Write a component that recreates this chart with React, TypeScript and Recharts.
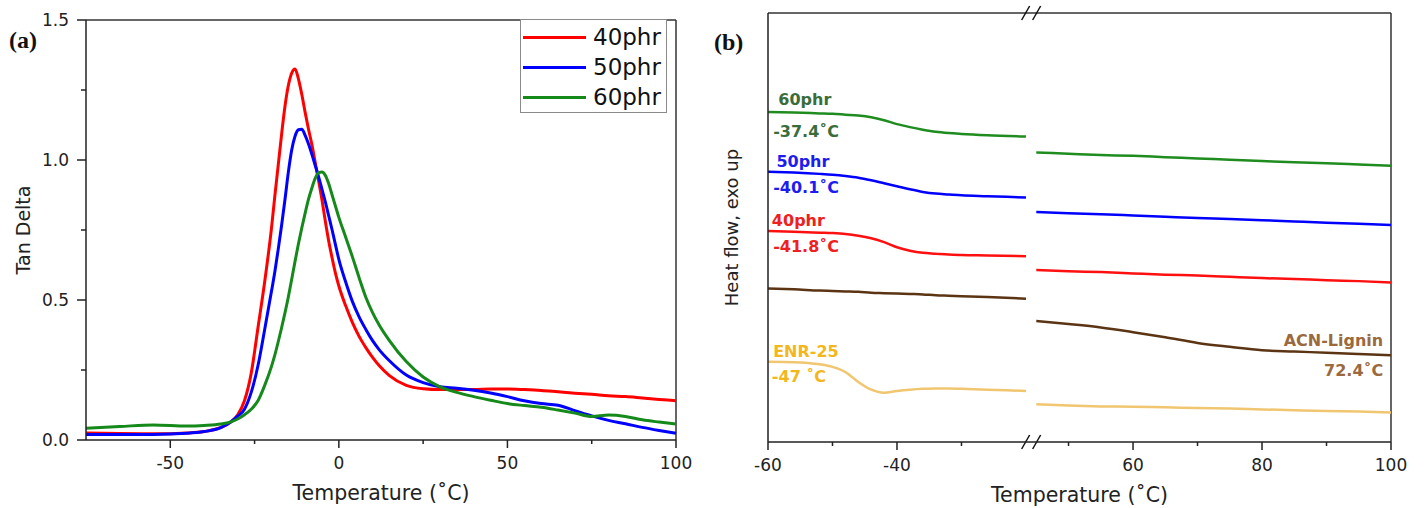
import React from "react";
import {
  LineChart,
  ComposedChart,
  Line,
  Scatter,
  XAxis,
  YAxis,
  ReferenceLine,
  Legend,
} from "recharts";

const FONT = "'DejaVu Sans', Verdana, sans-serif";
const AXIS = "#222";

// ---------- (a) DMA: tan delta vs temperature ----------
const tempA = [
  -75, -65, -55, -45, -40, -35, -32, -30, -28, -26, -24, -22,
  -20, -19, -18, -17, -16, -15, -14, -13, -12, -11,
  -10, -9, -8, -7, -6, -5, -4, -3, -2, -1,
  0, 2, 4, 6, 8, 10, 12,
  15, 20, 25, 30, 35, 40, 45, 50, 55, 60,
  65, 70, 75, 80, 85, 90, 95, 100,
];
const tan40 = [
  0.025, 0.023, 0.022, 0.025, 0.03, 0.045, 0.065, 0.09, 0.14, 0.238, 0.4, 0.565,
  0.755, 0.87, 0.98, 1.09, 1.19, 1.265, 1.31, 1.325, 1.29, 1.235,
  1.17, 1.11, 1.055, 0.99, 0.925, 0.857, 0.78, 0.71, 0.65, 0.595,
  0.55, 0.48, 0.42, 0.37, 0.33, 0.295, 0.265,
  0.23, 0.195, 0.183, 0.18, 0.18, 0.18, 0.182, 0.182, 0.18, 0.177,
  0.172, 0.167, 0.163, 0.158, 0.155, 0.15, 0.145, 0.14,
];
const tan50 = [
  0.02, 0.02, 0.02, 0.024, 0.03, 0.044, 0.065, 0.085, 0.11, 0.17, 0.265, 0.395,
  0.53, 0.6, 0.68, 0.765, 0.857, 0.955, 1.035, 1.085, 1.108, 1.11,
  1.088, 1.057, 1.02, 0.98, 0.94, 0.895, 0.85, 0.8, 0.75, 0.697,
  0.645, 0.565, 0.495, 0.44, 0.395, 0.355, 0.322,
  0.283, 0.232, 0.205, 0.19, 0.185, 0.178, 0.168, 0.155, 0.14, 0.13,
  0.124, 0.105, 0.086, 0.07, 0.058, 0.045, 0.034, 0.024,
];
const tan60 = [
  0.042, 0.048, 0.054, 0.05, 0.052, 0.057, 0.065, 0.075, 0.09, 0.11, 0.14, 0.195,
  0.262, 0.303, 0.35, 0.4, 0.453, 0.51, 0.573, 0.638, 0.7, 0.757,
  0.81, 0.86, 0.9, 0.935, 0.955, 0.957, 0.945, 0.915, 0.875, 0.835,
  0.795, 0.725, 0.655, 0.58, 0.51, 0.455, 0.41,
  0.355, 0.28, 0.225, 0.19, 0.17, 0.155, 0.142, 0.13, 0.123, 0.117,
  0.107, 0.096, 0.084, 0.089, 0.084, 0.072, 0.064, 0.057,
];

const dmaRows = tempA.map((t, i) => ({
  t,
  p40: tan40[i],
  p50: tan50[i],
  p60: tan60[i],
}));

const xTicksA = [-50, -25, 0, 25, 50, 75, 100];
const yTicksA = [0, 0.25, 0.5, 0.75, 1, 1.25, 1.5];

// ---------- (b) DSC: heat flow, broken axis -60..-20 | 45..100 ----------
const leftTemps = [-60, -56, -52, -50, -48, -46, -44, -42, -40, -38, -36, -34, -32, -30, -26, -20];
const rightTemps = [45, 50, 55, 60, 65, 70, 75, 80, 85, 90, 95, 100];

const dsc60Left = [76.9, 76.8, 76.6, 76.5, 76.3, 76.1, 75.7, 75.0, 74.1, 73.4, 72.8, 72.3, 72.0, 71.8, 71.5, 71.2];
const dsc60Right = [67.5, 67.2, 66.9, 66.7, 66.4, 66.1, 65.8, 65.5, 65.2, 65.0, 64.7, 64.4];
const dsc50Left = [63.0, 62.8, 62.5, 62.3, 62.0, 61.6, 61.0, 60.3, 59.6, 58.9, 58.3, 57.9, 57.7, 57.5, 57.3, 57.0];
const dsc50Right = [53.6, 53.3, 53.1, 52.8, 52.5, 52.2, 52.0, 51.7, 51.4, 51.1, 50.9, 50.6];
const dsc40Left = [49.2, 49.0, 48.8, 48.7, 48.5, 48.1, 47.5, 46.6, 45.4, 44.6, 44.1, 43.9, 43.7, 43.6, 43.5, 43.3];
const dsc40Right = [40.1, 39.8, 39.6, 39.3, 39.0, 38.8, 38.5, 38.2, 38.0, 37.7, 37.5, 37.2];
const ligninLeft = [35.8, 35.6, 35.3, 35.2, 35.1, 35.0, 34.8, 34.7, 34.6, 34.5, 34.4, 34.2, 34.1, 34.0, 33.8, 33.4];
const ligninRight = [28.2, 27.5, 26.7, 25.6, 24.4, 23.1, 22.2, 21.4, 21.1, 20.8, 20.5, 20.2];
const enrLeft = [18.7, 18.6, 18.1, 17.5, 16.3, 14.0, 12.2, 11.5, 11.9, 12.2, 12.4, 12.5, 12.5, 12.4, 12.2, 11.9];
const enrRight = [8.8, 8.5, 8.3, 8.2, 8.1, 7.9, 7.8, 7.6, 7.4, 7.2, 7.1, 6.9];

const noteText = ["60phr", "-37.4˚C", "50phr", "-40.1˚C", "40phr", "-41.8˚C", "ENR-25", "-47 ˚C", "ACN-Lignin", "72.4˚C"];
const noteTemp = [-58.4, -59.2, -58.7, -59.2, -59.4, -59.2, -59.2, -59.4, 98.8, 98.8];
const noteLevel = [79.8, 72.4, 65.4, 59.4, 51.6, 45.5, 21.2, 15.2, 23.6, 16.7];
const noteColor = ["#3b6d3b", "#3b6d3b", "#1d1df0", "#1d1df0", "#ee2020", "#ee2020", "#f3b71c", "#f3b71c", "#9a6a3e", "#9a6a3e"];

// break: the right segment is shifted next to the left one with a small gap
const GAP = 1.6;
const toAxis = (t: number) => (t <= -20 ? t : t - 65 + GAP);
const fromAxis = (v: number) => (v <= -20 ? v : v + 65 - GAP);
const BREAK_V = -20 + GAP / 2;

const dscSeries = [
  { key: "g60", name: "60phr", color: "#1f8c1f", left: dsc60Left, right: dsc60Right },
  { key: "g50", name: "50phr", color: "#0000ff", left: dsc50Left, right: dsc50Right },
  { key: "g40", name: "40phr", color: "#ff1010", left: dsc40Left, right: dsc40Right },
  { key: "lig", name: "ACN-Lignin", color: "#5b3413", left: ligninLeft, right: ligninRight },
  { key: "enr", name: "ENR-25", color: "#f1c671", left: enrLeft, right: enrRight },
];

const rowAt = (v: number, side: "left" | "right" | null, i: number) => {
  const row: Record<string, number | null> = { v };
  dscSeries.forEach((s) => {
    row[s.key] = side ? s[side][i] : null;
  });
  return row;
};

const dscRows = [
  ...leftTemps.map((t, i) => rowAt(t, "left", i)),
  rowAt(BREAK_V, null, 0),
  ...rightTemps.map((t, i) => rowAt(toAxis(t), "right", i)),
];

const notes = noteText.map((text, i) => ({
  v: toAxis(noteTemp[i]),
  u: noteLevel[i],
  text,
  color: noteColor[i],
  anchor: noteTemp[i] > 0 ? "end" : "start",
}));

const xTicksB = [-60, -50, -40, -30, ...[50, 60, 70, 80, 90, 100].map(toAxis)];

// ---------- shared pieces ----------
function BottomTick({ x, y, payload, label }: any) {
  const text = label(payload.value);
  const len = text ? 8 : 4;
  return (
    <g>
      <line x1={x} y1={y} x2={x} y2={y + len} stroke={AXIS} strokeWidth={1.5} />
      {text ? (
        <text x={x} y={y + 29} textAnchor="middle" fontSize={17} fontFamily={FONT} fill="#222">
          {text}
        </text>
      ) : null}
    </g>
  );
}

function LeftTickA({ x, y, payload }: any) {
  const v = payload.value;
  const major = Math.abs(v * 2 - Math.round(v * 2)) < 1e-6;
  return (
    <g>
      <line x1={x} y1={y} x2={x - (major ? 9 : 5)} y2={y} stroke={AXIS} strokeWidth={1.5} />
      {major ? (
        <text x={x - 17} y={y + 6} textAnchor="end" fontSize={17} fontFamily={FONT} fill="#222">
          {v.toFixed(1)}
        </text>
      ) : null}
    </g>
  );
}

const xTitle = (fallback: { x: number; y: number; width: number }) => (p: any) => {
  const vb = p && p.viewBox ? p.viewBox : fallback;
  return (
    <text
      x={vb.x + vb.width / 2}
      y={vb.y + 60}
      textAnchor="middle"
      fontSize={20.5}
      fontFamily={FONT}
      fill="#222"
    >
      Temperature (˚C)
    </text>
  );
};

const yTitle = (text: string, dist: number, size: number, fallback: any) => (p: any) => {
  const vb = p && p.viewBox ? p.viewBox : fallback;
  const cx = vb.x + vb.width - dist;
  const cy = vb.y + vb.height / 2;
  return (
    <text
      x={cx}
      y={cy}
      transform={`rotate(-90, ${cx}, ${cy})`}
      textAnchor="middle"
      dominantBaseline="central"
      fontSize={size}
      fontFamily={FONT}
      fill="#222"
    >
      {text}
    </text>
  );
};

function DmaLegend({ payload }: any) {
  return (
    <div
      style={{
        width: 147,
        height: 94,
        boxSizing: "border-box",
        border: "1px solid #8a8a8a",
        background: "#fff",
        paddingTop: 2,
      }}
    >
      {(payload || []).map((entry: any) => (
        <div key={entry.value} style={{ display: "flex", alignItems: "center", height: 30 }}>
          <span style={{ display: "inline-block", marginLeft: 2, width: 63, height: 3, background: entry.color }} />
          <span style={{ marginLeft: 7, fontFamily: FONT, fontSize: 23, lineHeight: "30px", color: "#111" }}>
            {entry.value}
          </span>
        </div>
      ))}
    </div>
  );
}

function BreakMarks(props: any) {
  const cx = props.x1;
  const ys = [Math.min(props.y1, props.y2), Math.max(props.y1, props.y2)];
  return (
    <g>
      {ys.map((y) =>
        [-5.5, 5.5].map((dx) => (
          <line
            key={`${y}-${dx}`}
            x1={cx + dx - 4}
            y1={y + 7}
            x2={cx + dx + 4}
            y2={y - 7}
            stroke="#111"
            strokeWidth={1.5}
          />
        ))
      )}
    </g>
  );
}

function NoteLabel(p: any) {
  const d = p.payload;
  return (
    <text
      x={p.cx}
      y={p.cy}
      textAnchor={d.anchor}
      dominantBaseline="central"
      fontSize={16}
      fontWeight="bold"
      fontFamily={FONT}
      fill={d.color}
    >
      {d.text}
    </text>
  );
}

export default function App() {
  const labelA = (v: number) => (v % 50 === 0 ? String(v) : "");
  const labelB = (v: number) => {
    const t = Math.round(fromAxis(v));
    return t % 20 === 0 ? String(t) : "";
  };

  return (
    <div
      style={{
        position: "absolute",
        left: 0,
        top: 0,
        width: 1424,
        height: 508,
        background: "#fff",
        fontFamily: FONT,
      }}
    >
      <div style={{ position: "absolute", left: 0, top: 0 }}>
        <LineChart width={700} height={508} data={dmaRows} margin={{ top: 20, right: 24, left: 26, bottom: 6 }}>
          <XAxis
            dataKey="t"
            type="number"
            domain={[-75, 100]}
            ticks={xTicksA}
            interval={0}
            height={62}
            tickSize={0}
            tickMargin={0}
            tickLine={false}
            axisLine={{ stroke: AXIS, strokeWidth: 1.5 }}
            tick={(p: any) => <BottomTick {...p} label={labelA} />}
            label={xTitle({ x: 86, y: 440, width: 590 })}
          />
          <YAxis
            type="number"
            domain={[0, 1.5]}
            ticks={yTicksA}
            interval={0}
            width={60}
            tickSize={0}
            tickMargin={0}
            tickLine={false}
            axisLine={{ stroke: AXIS, strokeWidth: 1.5 }}
            tick={(p: any) => <LeftTickA {...p} />}
            label={yTitle("Tan Delta", 63.5, 19, { x: 26, y: 20, width: 60, height: 420 })}
          />
          <ReferenceLine y={1.5} stroke="#333" strokeWidth={1.5} />
          <ReferenceLine x={100} stroke="#333" strokeWidth={1.5} />
          <Line type="monotone" dataKey="p40" name="40phr" stroke="#ff0000" strokeWidth={3} dot={false} isAnimationActive={false} />
          <Line type="monotone" dataKey="p50" name="50phr" stroke="#0000ff" strokeWidth={3} dot={false} isAnimationActive={false} />
          <Line type="monotone" dataKey="p60" name="60phr" stroke="#15891a" strokeWidth={3} dot={false} isAnimationActive={false} />
          <Legend
            layout="vertical"
            align="center"
            verticalAlign="middle"
            wrapperStyle={{ top: 19, left: 520, width: 147, height: 94 }}
            content={(p: any) => <DmaLegend {...p} />}
          />
        </LineChart>
      </div>

      <div style={{ position: "absolute", left: 700, top: 0 }}>
        <ComposedChart width={724} height={508} data={dscRows} margin={{ top: 13, right: 33, left: 8, bottom: 4 }}>
          <XAxis
            dataKey="v"
            type="number"
            domain={[-60, toAxis(100)]}
            ticks={xTicksB}
            interval={0}
            height={62}
            tickSize={0}
            tickMargin={0}
            tickLine={false}
            axisLine={{ stroke: AXIS, strokeWidth: 1.5 }}
            tick={(p: any) => <BottomTick {...p} label={labelB} />}
            label={xTitle({ x: 768, y: 442, width: 623 })}
          />
          <YAxis
            type="number"
            domain={[0, 100]}
            width={60}
            tick={false}
            tickLine={false}
            axisLine={{ stroke: AXIS, strokeWidth: 1.5 }}
            label={yTitle("Heat flow, exo up", 37, 18, { x: 8, y: 13, width: 60, height: 429 })}
          />
          <ReferenceLine y={100} stroke="#333" strokeWidth={1.5} />
          <ReferenceLine x={toAxis(100)} stroke="#333" strokeWidth={1.5} />
          <ReferenceLine x={BREAK_V} shape={(p: any) => <BreakMarks {...p} />} />
          {dscSeries.map((s) => (
            <Line
              key={s.key}
              type="monotone"
              dataKey={s.key}
              name={s.name}
              stroke={s.color}
              strokeWidth={2.5}
              dot={false}
              connectNulls={false}
              isAnimationActive={false}
            />
          ))}
          <Scatter data={notes} dataKey="u" shape={(p: any) => <NoteLabel {...p} />} isAnimationActive={false} />
        </ComposedChart>
      </div>

      <svg width={1424} height={508} style={{ position: "absolute", left: 0, top: 0, pointerEvents: "none" }}>
        <text x={9} y={48} fontFamily="'Liberation Serif', 'Times New Roman', serif" fontWeight="bold" fontSize={24} fill="#111">
          (a)
        </text>
        <text x={714} y={50} fontFamily="'Liberation Serif', 'Times New Roman', serif" fontWeight="bold" fontSize={24} fill="#111">
          (b)
        </text>
      </svg>
    </div>
  );
}
